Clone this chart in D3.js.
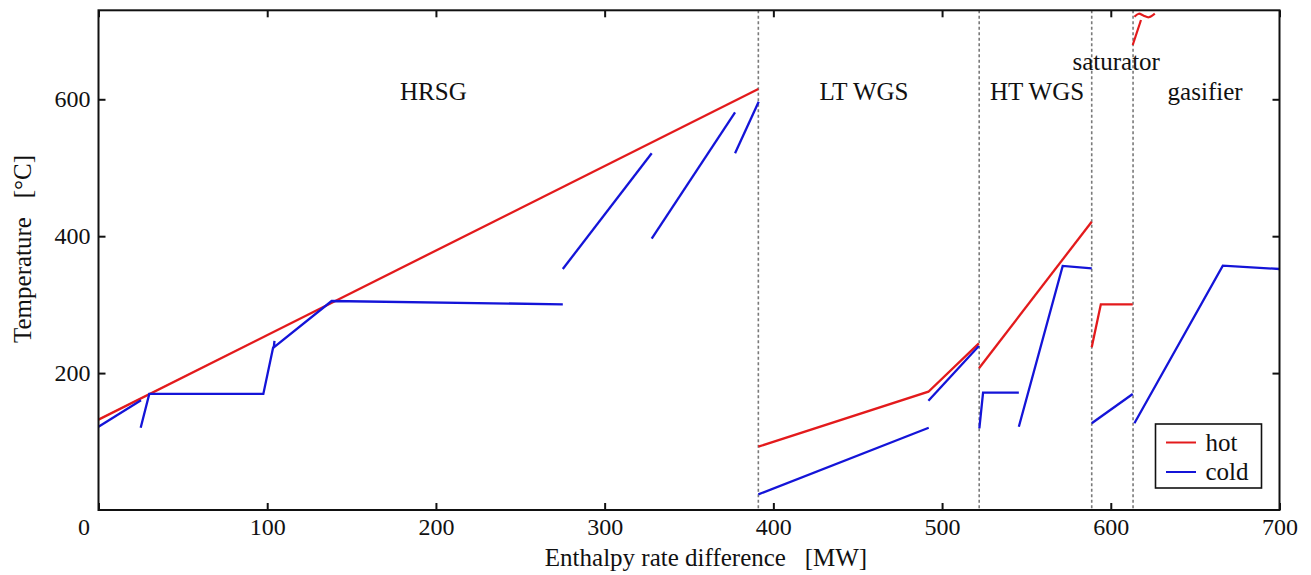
<!DOCTYPE html>
<html>
<head>
<meta charset="utf-8">
<script src="https://cdnjs.cloudflare.com/ajax/libs/d3/7.8.5/d3.min.js"></script>
<style>
body { margin: 0; background: #fff; }
text { font-family: "Liberation Serif", "Times New Roman", serif; fill: #111; white-space: pre; }
</style>
</head>
<body>
<svg></svg>
<script>
// composite curves, [MW, degC]
var hotLines = [
    [[0, 132], [391.1, 615]],
    [[391.1, 92.5], [491.9, 172.8], [521.8, 243.5]],
    [[521.9, 207], [588.7, 421.2]],
    [[588.7, 237.7], [594.1, 300.5], [613.0, 300.5]]
];

var coldLines = [
    [[0, 121.7], [25.2, 160.3]],
    [[25.0, 120.2], [30.1, 169.5], [97.7, 169.5], [103.6, 238.6]],
    [[104.3, 247], [103.9, 237.5], [138.2, 305.3], [275.2, 300.5]],
    [[275.2, 352.1], [327.9, 521.1]],
    [[327.9, 396.3], [377.3, 581.0]],
    [[377.3, 521.1], [391.3, 596.5]],
    [[391.1, 22.9], [492.1, 120.2]],
    [[491.9, 159.7], [521.8, 239.6]],
    [[522.1, 119.4], [524.3, 171.4], [545.5, 171.4]],
    [[545.5, 121.7], [571.5, 356.5], [588.7, 353.1]],
    [[588.7, 126.7], [613.0, 169.5]],
    [[614.0, 126.7], [666.4, 356.9], [700, 352.1]]
];

var sectionBounds = [391.1, 522.0, 588.7, 613.2];
var sectionNames = ["HRSG", "LT WGS", "HT WGS", "saturator", "gasifier"];

var xTicks = [0, 100, 200, 300, 400, 500, 600, 700];
var yTicks = [200, 400, 600];

// hand drawn red mark at the top
var markStem = [[613.0, 679.3], [617.9, 715.8]];
var markTop = [[614.0, 720.7], [616.6, 725], [619.5, 722.1], [622.5, 719.8], [626.1, 725]];

var svgWidth = 1311;
var svgHeight = 575;

var plotLeft = 98.5, plotRight = 1279.5, plotTop = 10.3, plotBottom = 510;

var hotColor = "#e31a1c";
var coldColor = "#1414d8";

var svg = d3.select("svg")
    .attr("width", svgWidth)
    .attr("height", svgHeight);

var x = d3.scaleLinear().domain([0, 700]).range([plotLeft, plotRight]);
var y = d3.scaleLinear().domain([0, 730]).range([plotBottom, plotTop]);

var line = d3.line()
    .x(function (d) { return x(d[0]); })
    .y(function (d) { return y(d[1]); });

// section separators
svg.selectAll(".sep")
    .data(sectionBounds)
    .enter().append("line")
    .attr("x1", function (d) { return x(d); })
    .attr("x2", function (d) { return x(d); })
    .attr("y1", plotTop)
    .attr("y2", plotBottom)
    .attr("stroke", "#7a7a7a")
    .attr("stroke-width", 1.6)
    .attr("stroke-dasharray", "3,2.5");

// section labels (position in data units)
var labelPos = [[198.5, 599], [453.7, 599], [556.3, 599], [603.2, 643], [655.9, 599]];
svg.selectAll(".sect")
    .data(sectionNames)
    .enter().append("text")
    .attr("x", function (d, i) { return x(labelPos[i][0]); })
    .attr("y", function (d, i) { return y(labelPos[i][1]); })
    .attr("text-anchor", "middle")
    .style("font-size", "25px")
    .text(function (d) { return d; });

svg.selectAll(".hot")
    .data(hotLines)
    .enter().append("path")
    .attr("d", line)
    .attr("fill", "none")
    .attr("stroke", hotColor)
    .attr("stroke-width", 2.3);

svg.selectAll(".cold")
    .data(coldLines)
    .enter().append("path")
    .attr("d", line)
    .attr("fill", "none")
    .attr("stroke", coldColor)
    .attr("stroke-width", 2.3);

svg.append("path")
    .attr("d", line(markStem))
    .attr("fill", "none")
    .attr("stroke", hotColor)
    .attr("stroke-width", 2.2);

svg.append("path")
    .attr("d", line.curve(d3.curveCatmullRom)(markTop))
    .attr("fill", "none")
    .attr("stroke", hotColor)
    .attr("stroke-width", 2.2);
line.curve(d3.curveLinear);

// axes, ticks pointing inward on all four sides
var xAxis = svg.append("g")
    .attr("transform", "translate(0," + plotBottom + ")")
    .call(d3.axisBottom(x).tickValues(xTicks).tickSize(-7).tickPadding(8));
var xTop = svg.append("g")
    .attr("transform", "translate(0," + plotTop + ")")
    .call(d3.axisTop(x).tickValues(xTicks).tickSize(-7).tickFormat(""));
var yAxis = svg.append("g")
    .attr("transform", "translate(" + plotLeft + ",0)")
    .call(d3.axisLeft(y).tickValues(yTicks).tickSize(-7).tickPadding(8));
var yRight = svg.append("g")
    .attr("transform", "translate(" + plotRight + ",0)")
    .call(d3.axisRight(y).tickValues(yTicks).tickSize(-7).tickFormat(""));

[xAxis, xTop, yAxis, yRight].forEach(function (g) {
    g.select(".domain").remove();
    g.selectAll("line").attr("stroke", "#111").attr("stroke-width", 2);
    g.selectAll("text")
        .style("font-size", "24px")
        .style("font-family", "'Liberation Serif', serif")
        .attr("fill", "#111");
});

// the zero label sits left of the corner
xAxis.selectAll(".tick")
    .filter(function (d) { return d === 0; })
    .select("text")
    .attr("x", -15);

svg.append("rect")
    .attr("x", plotLeft)
    .attr("y", plotTop)
    .attr("width", plotRight - plotLeft)
    .attr("height", plotBottom - plotTop)
    .attr("fill", "none")
    .attr("stroke", "#111")
    .attr("stroke-width", 2);

svg.append("text")
    .attr("x", 706)
    .attr("y", 566)
    .attr("text-anchor", "middle")
    .style("font-size", "25px")
    .text("Enthalpy rate difference   [MW]");

svg.append("text")
    .attr("transform", "translate(31,249) rotate(-90)")
    .attr("text-anchor", "middle")
    .style("font-size", "25px")
    .text("Temperature   [\u00B0C]");

// legend
var legend = svg.append("g").attr("transform", "translate(1155.5,424)");
legend.append("rect")
    .attr("width", 106)
    .attr("height", 64)
    .attr("fill", "#fff")
    .attr("stroke", "#111")
    .attr("stroke-width", 1.6);

var legendItems = [["hot", hotColor], ["cold", coldColor]];
legendItems.forEach(function (item, i) {
    legend.append("line")
        .attr("x1", 10.5).attr("x2", 40.5)
        .attr("y1", 18.5 + i * 29.5).attr("y2", 18.5 + i * 29.5)
        .attr("stroke", item[1])
        .attr("stroke-width", 2);
    legend.append("text")
        .attr("x", 50)
        .attr("y", 26.5 + i * 29.5)
        .style("font-size", "25px")
        .text(item[0]);
});
</script>
</body>
</html>
